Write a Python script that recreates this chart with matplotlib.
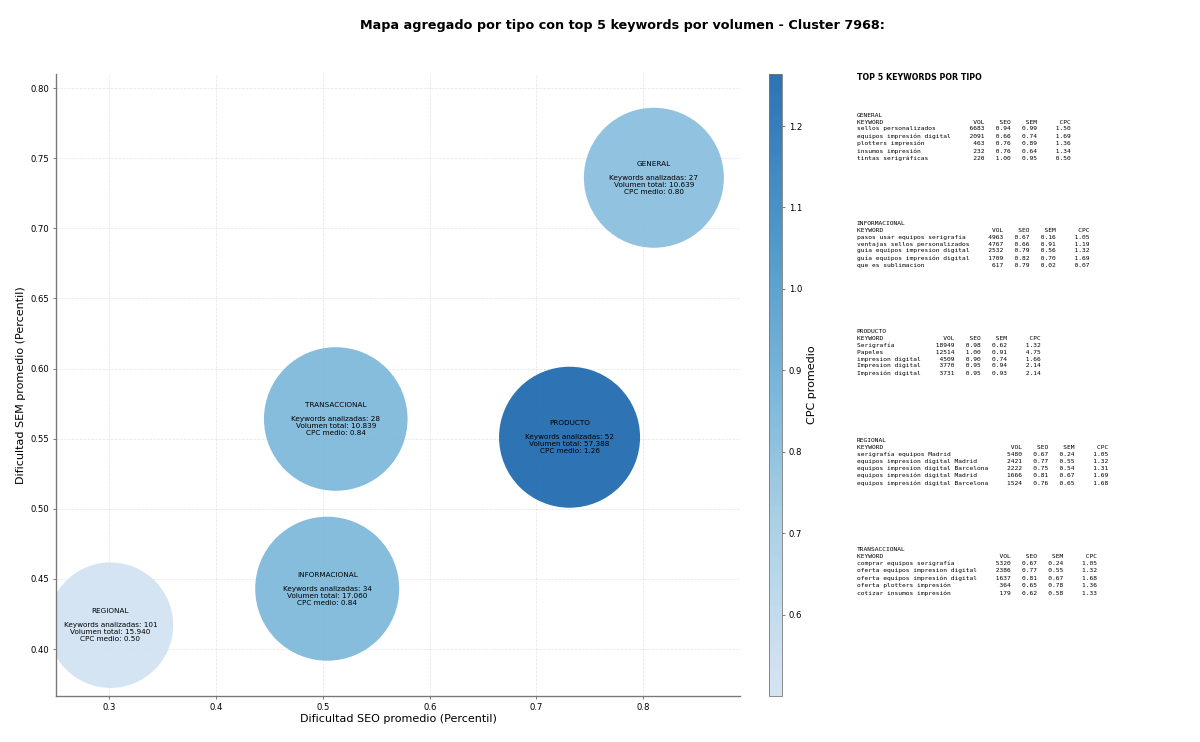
"""Mapa agregado por tipo de keyword (SEO vs SEM, color = CPC) + top 5 por volumen."""
import matplotlib

matplotlib.use("Agg")

import matplotlib.pyplot as plt  # noqa: E402
import numpy as np  # noqa: E402
from matplotlib.colors import LinearSegmentedColormap  # noqa: E402

# ---- datos agregados por tipo ----------------------------------------------
tipos = ["GENERAL", "TRANSACCIONAL", "PRODUCTO", "INFORMACIONAL", "REGIONAL"]
seo_medio = [0.810, 0.512, 0.731, 0.504, 0.301]
sem_medio = [0.736, 0.564, 0.551, 0.443, 0.417]
cpc_medio = [0.80, 0.84, 1.264, 0.84, 0.50]
n_keywords = [27, 28, 52, 34, 101]
volumen_total = [10639, 10839, 57388, 17060, 15940]
tam_burbuja = [18063, 19000, 18326, 19110, 14500]

# ---- top 5 keywords por tipo: (keyword, vol, seo, sem, cpc) -----------------
top_general = [
    ("sellos personalizados", 6683, 0.94, 0.99, 1.50),
    ("equipos impresión digital", 2091, 0.66, 0.74, 1.69),
    ("plotters impresión", 463, 0.76, 0.89, 1.36),
    ("insumos impresión", 232, 0.76, 0.64, 1.34),
    ("tintas serigráficas", 220, 1.00, 0.95, 0.50),
]
top_informacional = [
    ("pasos usar equipos serigrafia", 4963, 0.67, 0.16, 1.05),
    ("ventajas sellos personalizados", 4767, 0.66, 0.91, 1.19),
    ("guia equipos impresion digital", 2532, 0.79, 0.56, 1.32),
    ("guía equipos impresión digital", 1709, 0.82, 0.70, 1.69),
    ("que es sublimacion", 617, 0.79, 0.02, 0.07),
]
top_producto = [
    ("Serigrafía", 18949, 0.98, 0.62, 1.32),
    ("Papeles", 12514, 1.00, 0.91, 4.75),
    ("impresion digital", 4509, 0.90, 0.74, 1.66),
    ("Impresion digital", 3770, 0.95, 0.94, 2.14),
    ("Impresión digital", 3731, 0.95, 0.93, 2.14),
]
top_regional = [
    ("serigrafía equipos Madrid", 5480, 0.67, 0.24, 1.05),
    ("equipos impresion digital Madrid", 2421, 0.77, 0.55, 1.32),
    ("equipos impresion digital Barcelona", 2222, 0.75, 0.54, 1.31),
    ("equipos impresión digital Madrid", 1666, 0.81, 0.67, 1.69),
    ("equipos impresión digital Barcelona", 1524, 0.76, 0.65, 1.68),
]
top_transaccional = [
    ("comprar equipos serigrafía", 5320, 0.67, 0.24, 1.05),
    ("oferta equipos impresion digital", 2386, 0.77, 0.55, 1.32),
    ("oferta equipos impresión digital", 1637, 0.81, 0.67, 1.68),
    ("oferta plotters impresión", 364, 0.65, 0.78, 1.36),
    ("cotizar insumos impresión", 179, 0.62, 0.58, 1.33),
]
bloques = [("GENERAL", top_general), ("INFORMACIONAL", top_informacional),
           ("PRODUCTO", top_producto), ("REGIONAL", top_regional),
           ("TRANSACCIONAL", top_transaccional)]


def tabla(nombre, filas):
    w = max(len(k) for k, *_ in filas) + 2
    lines = [nombre,
             f"{'KEYWORD':<{w}} {'VOL':>6} {'SEO':>6} {'SEM':>6} {'CPC':>8}"]
    for k, v, s1, s2, c in filas:
        lines.append(f"{k:<{w}} {v:>6} {s1:>6.2f} {s2:>6.2f} {c:>8.2f}")
    return "\n".join(lines)


# ---- figura -----------------------------------------------------------------
fig = plt.figure(figsize=(16, 742 / 75), dpi=75)
ax = fig.add_axes([0.0467, 0.062, 0.57, 0.8383])
cax = fig.add_axes([0.641, 0.062, 0.0108, 0.8383])

cmap = LinearSegmentedColormap.from_list(
    "blues_cut", plt.cm.Blues(np.linspace(0.2, 0.8, 256)))

ax.grid(True, linestyle="--", color="#cccccc", alpha=0.5, linewidth=0.7)
ax.set_axisbelow(True)
sc = ax.scatter(seo_medio, sem_medio, s=tam_burbuja, c=cpc_medio, cmap=cmap,
                vmin=min(cpc_medio), vmax=max(cpc_medio), alpha=0.9,
                linewidths=0, zorder=2)

for t, x, y, n, v, c in zip(tipos, seo_medio, sem_medio, n_keywords,
                            volumen_total, cpc_medio):
    vtxt = f"{v:,}".replace(",", ".")
    ax.text(x, y, f"{t}\n\nKeywords analizadas: {n}\nVolumen total: {vtxt}\n"
            f"CPC medio: {c:.2f}", ha="center", va="center", fontsize=7,
            zorder=3)

ax.set_xlim(0.25, 0.8907)
ax.set_ylim(0.3665, 0.81)
ax.set_xticks([0.3, 0.4, 0.5, 0.6, 0.7, 0.8])
ax.set_yticks([0.40, 0.45, 0.50, 0.55, 0.60, 0.65, 0.70, 0.75, 0.80])
ax.tick_params(labelsize=8.2, length=3, color="#666666")
for side in ("top", "right"):
    ax.spines[side].set_visible(False)
for side in ("left", "bottom"):
    ax.spines[side].set_color("#777777")
    ax.spines[side].set_linewidth(1.3)
ax.set_xlabel("Dificultad SEO promedio (Percentil)", fontsize=10.7,
              labelpad=2)
ax.set_ylabel("Dificultad SEM promedio (Percentil)", fontsize=10.7)

cb = fig.colorbar(sc, cax=cax)
cb.set_ticks([0.6, 0.7, 0.8, 0.9, 1.0, 1.1, 1.2])
cb.set_label("CPC promedio", fontsize=10.7)
cb.ax.tick_params(labelsize=8.2, length=3, color="#666666")
cb.outline.set_edgecolor("#777777")

fig.text(0.519, 0.966, "Mapa agregado por tipo con top 5 keywords por volumen "
         "- Cluster 7968:", ha="center", va="center", fontsize=12.2,
         fontweight="bold")

fig.text(0.714, 0.902, "TOP 5 KEYWORDS POR TIPO", fontsize=7.5,
         fontweight="bold", va="top")
y_bloque = [0.848, 0.702, 0.557, 0.410, 0.263]
for (nombre, filas), yb in zip(bloques, y_bloque):
    fig.text(0.714, yb, tabla(nombre, filas), family="DejaVu Sans Mono",
             fontsize=6, va="top", linespacing=1.45)

fig.savefig("out.png", dpi=75, facecolor="white")
